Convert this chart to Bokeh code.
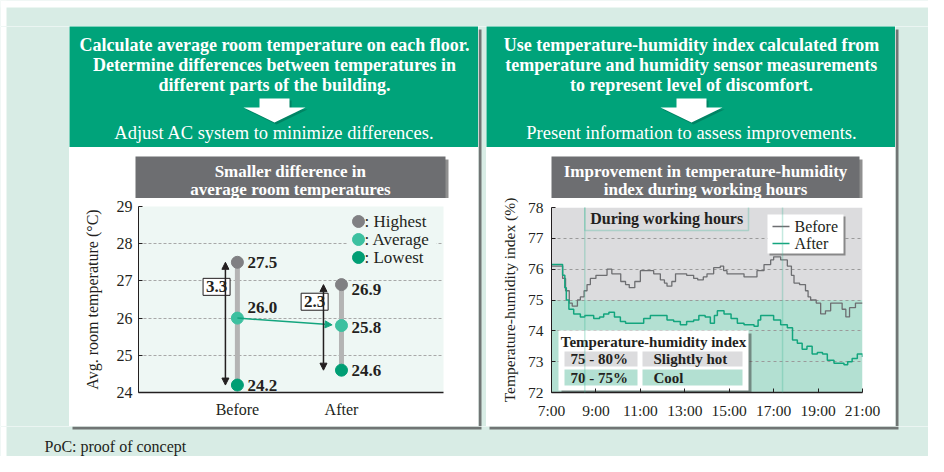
from bokeh.plotting import figure
from bokeh.layouts import column, row
from bokeh.models import (Range1d, FixedTicker, ColumnDataSource, Arrow, NormalHead,
                          BoxAnnotation)
from bokeh.core.properties import value
from bokeh.embed import file_html
from bokeh.resources import INLINE

# ---------------- data ----------------
categories = ["Before", "After"]
highest = [27.5, 26.9]
average = [26.0, 25.8]
lowest = [24.2, 24.6]
temp_ticks = [24, 25, 26, 27, 28, 29]

hour_ticks = [7, 9, 11, 13, 15, 17, 19, 21]
thi_ticks = [72, 73, 74, 75, 76, 77, 78]
work_start, work_end = "8:30", "17:24"
series_names = ["Before", "After"]

before_times = ["7:00", "7:25", "7:30", "7:38", "7:48", "7:56", "8:10", "8:18", "8:28", "8:36",
                "8:45", "9:00", "9:15", "9:30", "9:43", "9:55", "10:07", "10:20", "10:30", "10:45",
                "11:00", "11:20", "11:36", "11:54", "12:05", "12:12", "12:25", "12:35", "12:48", "13:05",
                "13:24", "13:35", "13:50", "14:00", "14:18", "14:36", "14:45", "14:54", "15:20", "15:40",
                "16:00", "16:15", "16:34", "16:52", "17:00", "17:19", "17:37", "17:48", "17:55", "18:10",
                "18:26", "18:33", "18:40", "18:55", "19:07", "19:20", "19:34", "19:56", "20:05", "20:15",
                "20:25", "20:41", "21:00"]
before_thi = [76.1, 76.1, 75.7, 75.3, 74.9, 74.8, 75.0, 75.1, 75.3, 75.5,
              75.7, 75.8, 75.8, 76.0, 75.85, 75.85, 75.6, 75.5, 75.4, 75.6,
              75.95, 75.95, 75.85, 75.65, 75.55, 75.45, 75.6, 75.85, 75.85, 75.8,
              75.7, 75.65, 75.75, 75.85, 76.05, 76.1, 75.95, 75.85, 75.85, 75.75,
              75.75, 75.95, 76.15, 76.3, 76.4, 76.3, 76.1, 75.8, 75.55, 75.5,
              75.3, 75.1, 75.0, 74.9, 74.55, 74.65, 74.9, 74.9, 74.7, 74.45,
              74.75, 74.9, 74.9]

after_times = ["7:00", "7:25", "7:30", "7:36", "7:40", "7:47", "8:00", "8:18", "8:30", "8:54",
               "9:10", "9:21", "9:35", "9:50", "10:06", "10:20", "10:45", "11:09", "11:27", "11:55",
               "12:12", "12:30", "12:48", "13:05", "13:24", "13:38", "13:55", "14:09", "14:20", "14:28",
               "14:46", "15:05", "15:22", "15:40", "16:07", "16:18", "16:25", "16:50", "17:00", "17:19",
               "17:37", "17:51", "18:04", "18:17", "18:30", "18:44", "18:58", "19:12", "19:25", "19:43",
               "20:10", "20:20", "20:32", "20:46", "21:00"]
after_thi = [76.15, 76.15, 75.8, 75.4, 75.0, 74.7, 74.55, 74.45, 74.5, 74.4,
             74.45, 74.55, 74.6, 74.45, 74.3, 74.25, 74.25, 74.4, 74.5, 74.5,
             74.35, 74.3, 74.2, 74.3, 74.35, 74.5, 74.45, 74.25, 74.5, 74.65,
             74.55, 74.4, 74.25, 74.2, 74.15, 74.35, 74.5, 74.5, 74.35, 74.2,
             74.1, 73.7, 73.6, 73.4, 73.5, 73.25, 73.3, 73.25, 73.05, 72.95,
             72.9, 73.0, 73.1, 73.25, 73.15]

band_labels = ["75 - 80%", "70 - 75%"]
band_names = ["Slightly hot", "Cool"]
band_lo = [75, 70]
band_hi = [80, 75]

# ---------------- styles ----------------
FONT = "Liberation Serif"
PAGE_BG = "#d8ece5"
GREEN = "#00a37a"
TITLE_GRAY = "#6d6e71"
DARK = "#231f20"
C_HIGH = "#808083"
C_AVG = "#3cc0a0"
C_LOW = "#009e74"
BAND_GRAY = "#dcdcde"
BAND_TEAL = "#b3e0d2"
BAND_COLORS = [BAND_GRAY, BAND_TEAL]
LINE_BEFORE = "#6d6e71"
LINE_AFTER = "#13a57e"
WORK_GREEN = "#3ab795"
SHADOW = "#4d4d4d"


def hrs(t):
    h, m = t.split(":")
    return int(h) + int(m) / 60.0


def canvas(x0, y0, w, h, bg):
    f = figure(width=w, height=h, x_range=Range1d(x0, x0 + w), y_range=Range1d(y0 + h, y0),
               x_axis_type=None, y_axis_type=None, toolbar_location=None, output_backend="svg",
               min_border=0, background_fill_color=bg, border_fill_color=bg,
               outline_line_color=None, frame_align=False)
    return f


def txt(f, x, y, s, size="16px", bold=False, color="white", align="center"):
    f.text(x=[x], y=[y], text=[s], text_font=value(FONT), text_font_size=size,
           text_font_style="bold" if bold else "normal", text_color=color,
           text_align=align, text_baseline="middle")


def down_arrow(f, cx):
    xs = [cx - 15, cx + 15, cx + 15, cx + 31, cx, cx - 31, cx - 15]
    ys = [98, 98, 107, 107, 122, 107, 107]
    f.patch([x + 2 for x in xs], [y + 2 for y in ys], fill_color="#00604a", fill_alpha=0.45,
            line_color=None)
    f.patch(xs, ys, fill_color="white", line_color=None)


# ---------------- outer strips ----------------
W_TOTAL = 928
top = canvas(0, 0, W_TOTAL, 26, PAGE_BG)
top.quad(left=[0], right=[W_TOTAL], top=[0], bottom=[7], fill_color="white", line_color=None)
top.quad(left=[0], right=[6], top=[0], bottom=[26], fill_color="white", line_color=None)
lm = canvas(0, 26, 69, 400, PAGE_BG)
lm.quad(left=[0], right=[6], top=[26], bottom=[426], fill_color="white", line_color=None)
gap = canvas(478, 26, 8, 400, PAGE_BG)
gap.quad(left=[478], right=[481], top=[29], bottom=[426], fill_color=SHADOW, fill_alpha=0.75,
         line_color=None)
rm = canvas(895, 26, W_TOTAL - 895, 400, PAGE_BG)
rm.quad(left=[895], right=[898], top=[29], bottom=[426], fill_color=SHADOW, fill_alpha=0.75,
        line_color=None)
bottom = canvas(0, 426, W_TOTAL, 30, PAGE_BG)
bottom.quad(left=[0], right=[6], top=[426], bottom=[456], fill_color="white", line_color=None)
bottom.quad(left=[72, 489], right=[481, 898], top=[426, 426], bottom=[429, 429],
            fill_color=SHADOW, fill_alpha=0.75, line_color=None)
txt(bottom, 44, 446, "PoC: proof of concept", size="16px", color=DARK, align="left")

# ---------------- headers ----------------
HEAD_SIZE = "18px"
SUB_SIZE = "18.5px"
hL = canvas(69, 26, 409, 121, GREEN)
cxL = 274
for yy, s in zip([44, 64, 84], ["Calculate average room temperature on each floor.",
                                "Determine differences between temperatures in",
                                "different parts of the building."]):
    txt(hL, cxL, yy, s, size=HEAD_SIZE, bold=True)
down_arrow(hL, cxL)
txt(hL, cxL, 132, "Adjust AC system to minimize differences.", size=SUB_SIZE)

hR = canvas(486, 26, 409, 121, GREEN)
cxR = 691
for yy, s in zip([44, 64, 84], ["Use temperature-humidity index calculated from",
                                "temperature and humidity sensor measurements",
                                "to represent level of discomfort."]):
    txt(hR, cxR, yy, s, size=HEAD_SIZE, bold=True)
down_arrow(hR, cxR)
txt(hR, cxR, 132, "Present information to assess improvements.", size=SUB_SIZE)


# ---------------- title strips ----------------
def title_strip(x0, bx0, bx1, lines):
    f = canvas(x0, 147, 409, 51, "white")
    f.quad(left=[bx0 + 3], right=[bx1 + 3], top=[159], bottom=[198], fill_color="#333333",
           fill_alpha=0.55, line_color=None)
    f.quad(left=[bx0], right=[bx1], top=[156], bottom=[198], fill_color=TITLE_GRAY,
           line_color=None)
    cx = (bx0 + bx1) / 2
    txt(f, cx, 171, lines[0], size="17px", bold=True)
    txt(f, cx, 189, lines[1], size="17px", bold=True)
    return f


tL = title_strip(69, 135, 445, ["Smaller difference in", "average room temperatures"])
tR = title_strip(486, 551, 859, ["Improvement in temperature-humidity", "index during working hours"])


def style_axes(p, size):
    for ax in (p.xaxis[0], p.yaxis[0]):
        ax.major_label_text_font = FONT
        ax.major_label_text_font_size = size
        ax.major_label_text_color = DARK
        ax.axis_label_text_font = FONT
        ax.axis_label_text_font_size = size
        ax.axis_label_text_font_style = "normal"
        ax.axis_label_text_color = DARK
        ax.axis_line_color = DARK
        ax.major_tick_line_color = DARK
        ax.major_tick_in = 4
        ax.major_tick_out = 0
        ax.minor_tick_line_color = None


# ---------------- left chart ----------------
FL_LEFT, FL_TOP, FL_W, FL_H = 138, 206, 305, 186
LBL = "17px"
cL = figure(width=409, height=228, x_range=Range1d(-0.95, 1.98), y_range=Range1d(24, 29),
            toolbar_location=None, output_backend="svg", frame_align=False,
            min_border_left=69, min_border_right=35, min_border_top=8, min_border_bottom=34,
            background_fill_color="#eef7f4", border_fill_color="white", outline_line_color=None)
style_axes(cL, "16px")
cL.xaxis.ticker = FixedTicker(ticks=list(range(len(categories))))
cL.xaxis.major_label_overrides = {i: c for i, c in enumerate(categories)}
cL.xaxis.major_tick_line_color = None
cL.xaxis.axis_line_width = 1.5
cL.xaxis.major_label_standoff = 8
cL.yaxis.ticker = FixedTicker(ticks=temp_ticks)
cL.yaxis.major_label_standoff = 6
cL.yaxis.axis_label = "Avg. room temperature (°C)"
cL.yaxis.axis_label_standoff = 13
cL.xgrid.visible = False
cL.ygrid.ticker = FixedTicker(ticks=temp_ticks[1:-1])
cL.ygrid.grid_line_color = "#a8a8a8"
cL.ygrid.grid_line_dash = "3 2"

xs = list(range(len(categories)))
lsx = (cL.x_range.end - cL.x_range.start) / FL_W
lsy = (cL.y_range.end - cL.y_range.start) / FL_H


def lx(px):
    return cL.x_range.start + (px - FL_LEFT) * lsx


def ly(py):
    return cL.y_range.end - (py - FL_TOP) * lsy


# legend background and entries
cL.quad(left=[lx(347)], right=[lx(436)], top=[ly(211)], bottom=[ly(266)],
        fill_color="#eef7f4", line_color=None)
for i, (lab, col) in enumerate([(": Highest", C_HIGH), (": Average", C_AVG), (": Lowest", C_LOW)]):
    yy = ly(221 + 18 * i)
    cL.scatter(x=[lx(358)], y=[yy], size=12, color=col)
    cL.text(x=[lx(364)], y=[yy], text=[lab], text_font=value(FONT), text_font_size=LBL,
            text_color=DARK, text_baseline="middle", text_align="left")

cL.segment(x0=xs, y0=lowest, x1=xs, y1=highest, line_color="#b4b4b4", line_width=5)

# average change arrow
frac = 0.91
cL.add_layout(Arrow(end=NormalHead(size=7, fill_color=LINE_AFTER, line_color=LINE_AFTER),
                    x_start=xs[0], y_start=average[0],
                    x_end=xs[0] + (xs[1] - xs[0]) * frac,
                    y_end=average[0] + (average[1] - average[0]) * frac,
                    line_color=LINE_AFTER, line_width=1.5))

# difference arrows
arrow_off = [-0.115, -0.173]
ax_x = [x + o for x, o in zip(xs, arrow_off)]
diff = [h - l for h, l in zip(highest, lowest)]
arr_src = ColumnDataSource(dict(x=ax_x, hi=highest, lo=lowest))
cL.add_layout(Arrow(start=NormalHead(size=7, fill_color=DARK, line_color=DARK),
                    end=NormalHead(size=7, fill_color=DARK, line_color=DARK),
                    x_start="x", y_start="hi", x_end="x", y_end="lo", source=arr_src,
                    line_color=DARK, line_width=1.5))
box_x = [x - 0.085 for x in ax_x]
box_y = [l + 0.8 * d for l, d in zip(lowest, diff)]
cL.rect(x=box_x, y=box_y, width=27, height=17, width_units="screen", height_units="screen",
        fill_color="white", line_color=DARK, line_width=1)
cL.text(x=box_x, y=box_y, text=[f"{d:.1f}" for d in diff], text_font=value(FONT),
        text_font_size=LBL, text_font_style="bold", text_color=DARK, text_align="center",
        text_baseline="middle")

# points
cL.scatter(x=xs, y=highest, size=12, color=C_HIGH)
cL.scatter(x=xs, y=average, size=12, color=C_AVG)
cL.scatter(x=xs, y=lowest, size=12, color=C_LOW)

for vals, yoffs in [(highest, [0, 5]), (average, [-11, 2]), (lowest, [0, 0])]:
    src = ColumnDataSource(dict(x=xs, y=vals, t=[f"{v:.1f}" for v in vals], yo=yoffs))
    cL.text(x="x", y="y", text="t", y_offset="yo", x_offset=10, source=src,
            text_font=value(FONT), text_font_size=LBL, text_font_style="bold",
            text_color=DARK, text_align="left", text_baseline="middle")

# ---------------- right chart ----------------
FR_LEFT, FR_TOP, FR_W, FR_H = 551, 207, 311, 185
cR = figure(width=409, height=228, x_range=Range1d(hour_ticks[0], hour_ticks[-1]),
            y_range=Range1d(thi_ticks[0], thi_ticks[-1]),
            toolbar_location=None, output_backend="svg", frame_align=False,
            min_border_left=65, min_border_right=33, min_border_top=9, min_border_bottom=34,
            background_fill_color="white", border_fill_color="white", outline_line_color=None)
style_axes(cR, "15.5px")
cR.xaxis.ticker = FixedTicker(ticks=hour_ticks)
cR.xaxis.major_label_overrides = {h: f"{h}:00" for h in hour_ticks}
cR.xaxis.major_label_standoff = 9
cR.xaxis.axis_line_width = 1.5
cR.yaxis.ticker = FixedTicker(ticks=thi_ticks)
cR.yaxis.major_label_standoff = 8
cR.yaxis.axis_label = "Temperature-humidity index (%)"
cR.yaxis.axis_label_standoff = 7
cR.xgrid.visible = False
cR.ygrid.ticker = FixedTicker(ticks=thi_ticks[1:-1])
cR.ygrid.grid_line_color = "#9a9a9a"
cR.ygrid.grid_line_dash = "3 3"

y0, y1 = cR.y_range.start, cR.y_range.end
cR.quad(left=cR.x_range.start, right=cR.x_range.end,
        bottom=[max(l, y0) for l in band_lo], top=[min(h, y1) for h in band_hi],
        fill_color=BAND_COLORS, line_color=None, level="image")

rsx = (cR.x_range.end - cR.x_range.start) / FR_W
rsy = (cR.y_range.end - cR.y_range.start) / FR_H


def rx(px):
    return cR.x_range.start + (px - FR_LEFT) * rsx


def ry(py):
    return cR.y_range.end - (py - FR_TOP) * rsy


cR.step(x=[hrs(t) for t in before_times], y=before_thi, mode="after",
        line_color=LINE_BEFORE, line_width=1.3)
cR.step(x=[hrs(t) for t in after_times], y=after_thi, mode="after",
        line_color=LINE_AFTER, line_width=1.5)

# working hours frame
ws, we = hrs(work_start), hrs(work_end)
cR.add_layout(BoxAnnotation(left=ws, right=we, top=ry(205), bottom=ry(397), fill_alpha=0,
                            line_color=WORK_GREEN, line_width=1.5))
cR.add_layout(BoxAnnotation(left=ws, right=rx(748), top=ry(205), bottom=ry(230), fill_alpha=0,
                            line_color=WORK_GREEN, line_width=1.5))
cR.text(x=[(ws + rx(748)) / 2], y=[ry(218)], text=["During working hours"],
        text_font=value(FONT), text_font_size="16px", text_font_style="bold", text_color=DARK,
        text_align="center", text_baseline="middle")

# line legend (drawn by hand, with a small drop shadow)
cR.quad(left=[rx(769)], right=[rx(845)], top=[ry(216)], bottom=[ry(255)],
        fill_color="#333333", fill_alpha=0.5, line_color=None)
cR.quad(left=[rx(767)], right=[rx(843)], top=[ry(214)], bottom=[ry(253)],
        fill_color="white", line_color=None)
for i, (name, col) in enumerate(zip(series_names, [LINE_BEFORE, LINE_AFTER])):
    yy = ry(226 + 17 * i)
    cR.line(x=[rx(772), rx(789)], y=[yy, yy], line_color=col, line_width=1.5)
    cR.text(x=[rx(794)], y=[yy], text=[name], text_font=value(FONT), text_font_size="16px",
            text_color=DARK, text_align="left", text_baseline="middle")

# index table
cR.quad(left=[rx(561)], right=[rx(751)], top=[ry(333)], bottom=[ry(393)],
        fill_color="#333333", fill_alpha=0.5, line_color=None)
cR.quad(left=[rx(558)], right=[rx(748)], top=[ry(330)], bottom=[ry(390)],
        fill_color="white", line_color=None)
cR.text(x=[rx(653)], y=[ry(341)], text=["Temperature-humidity index"], text_font=value(FONT),
        text_font_size="15px", text_font_style="bold", text_color=DARK, text_align="center",
        text_baseline="middle")
row_top = [351, 369]
row_bot = [366, 385]
cR.quad(left=[rx(564)] * 2, right=[rx(637)] * 2, top=[ry(t) for t in row_top],
        bottom=[ry(b) for b in row_bot], fill_color=BAND_COLORS, line_color=None)
cR.quad(left=[rx(642)] * 2, right=[rx(742)] * 2, top=[ry(t) for t in row_top],
        bottom=[ry(b) for b in row_bot], fill_color=BAND_COLORS, line_color=None)
row_mid = [ry((t + b) / 2) for t, b in zip(row_top, row_bot)]
cR.text(x=[rx(570)] * 2, y=row_mid, text=band_labels, text_font=value(FONT),
        text_font_size="15px", text_font_style="bold", text_color=DARK, text_align="left",
        text_baseline="middle")
cR.text(x=[rx(653)] * 2, y=row_mid, text=band_names, text_font=value(FONT),
        text_font_size="15px", text_font_style="bold", text_color=DARK, text_align="left",
        text_baseline="middle")

# ---------------- layout ----------------
left_panel = column(hL, tL, cL, spacing=0)
right_panel = column(hR, tR, cR, spacing=0)
root = column(top, row(lm, left_panel, gap, right_panel, rm, spacing=0), bottom, spacing=0)

open("out.html", "w").write(file_html(root, INLINE))
